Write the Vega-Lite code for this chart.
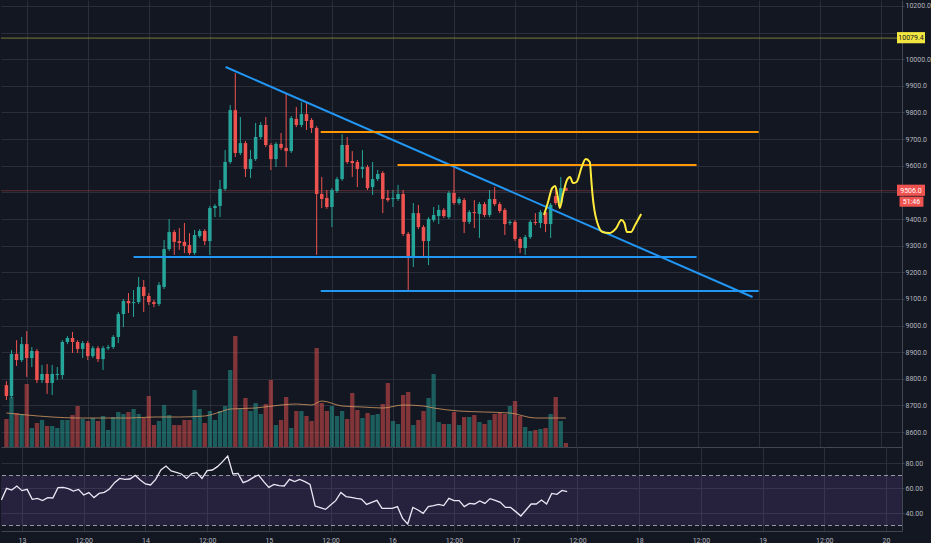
{
  "$schema": "https://vega.github.io/schema/vega-lite/v6.json",
  "description": "BTC hourly candles with volume, RSI and trend drawings, 13-17 May.",
  "background": "#131722",
  "padding": 0,
  "spacing": 0,
  "config": {
    "view": {"stroke": null},
    "axis": {"labelColor": "#b2b5be", "labelFont": "Roboto", "labelFontSize": 7, "gridColor": "#2a2e39", "domainColor": "#434651", "tickColor": "#434651", "tickSize": 2, "labelPadding": 1}
  },
  "datasets": {
    "candles": [
      {"t":-4,"o":8776,"h":8791,"l":8720,"c":8735,"v":280,"r":50.4},
      {"t":-3,"o":8735,"h":8908,"l":8728,"c":8893,"v":500,"r":59.7},
      {"t":-2,"o":8893,"h":8945,"l":8848,"c":8870,"v":340,"r":58.4},
      {"t":-1,"o":8870,"h":8957,"l":8863,"c":8930,"v":330,"r":61.6},
      {"t":0,"o":8930,"h":8979,"l":8807,"c":8878,"v":630,"r":57.9},
      {"t":1,"o":8878,"h":8919,"l":8844,"c":8904,"v":190,"r":58.9},
      {"t":2,"o":8904,"h":8912,"l":8784,"c":8795,"v":240,"r":50.9},
      {"t":3,"o":8795,"h":8852,"l":8784,"c":8818,"v":270,"r":51.7},
      {"t":4,"o":8818,"h":8855,"l":8743,"c":8784,"v":210,"r":49.9},
      {"t":5,"o":8784,"h":8852,"l":8739,"c":8818,"v":210,"r":52.3},
      {"t":6,"o":8814,"h":8844,"l":8795,"c":8818,"v":190,"r":52.0},
      {"t":7,"o":8814,"h":8945,"l":8799,"c":8938,"v":270,"r":60.3},
      {"t":8,"o":8938,"h":8960,"l":8930,"c":8953,"v":270,"r":60.5},
      {"t":9,"o":8953,"h":8976,"l":8897,"c":8938,"v":320,"r":59.5},
      {"t":10,"o":8938,"h":8945,"l":8897,"c":8912,"v":410,"r":57.6},
      {"t":11,"o":8912,"h":8942,"l":8878,"c":8934,"v":280,"r":58.9},
      {"t":12,"o":8934,"h":8942,"l":8870,"c":8885,"v":260,"r":54.4},
      {"t":13,"o":8885,"h":8923,"l":8878,"c":8915,"v":290,"r":56.3},
      {"t":14,"o":8915,"h":8923,"l":8863,"c":8874,"v":260,"r":52.3},
      {"t":15,"o":8874,"h":8923,"l":8833,"c":8915,"v":310,"r":55.7},
      {"t":16,"o":8915,"h":8927,"l":8908,"c":8919,"v":170,"r":56.5},
      {"t":17,"o":8919,"h":8964,"l":8912,"c":8957,"v":300,"r":59.2},
      {"t":18,"o":8957,"h":9051,"l":8934,"c":9043,"v":350,"r":64.3},
      {"t":19,"o":9043,"h":9100,"l":8994,"c":9092,"v":330,"r":67.7},
      {"t":20,"o":9092,"h":9122,"l":9047,"c":9084,"v":350,"r":66.9},
      {"t":21,"o":9084,"h":9133,"l":9032,"c":9088,"v":380,"r":67.2},
      {"t":22,"o":9088,"h":9182,"l":9081,"c":9145,"v":330,"r":70.1},
      {"t":23,"o":9145,"h":9171,"l":9051,"c":9111,"v":290,"r":66.4},
      {"t":24,"o":9111,"h":9122,"l":9077,"c":9088,"v":510,"r":63.2},
      {"t":25,"o":9088,"h":9096,"l":9069,"c":9081,"v":220,"r":62.4},
      {"t":26,"o":9081,"h":9163,"l":9073,"c":9152,"v":260,"r":66.9},
      {"t":27,"o":9145,"h":9321,"l":9137,"c":9287,"v":420,"r":74.4},
      {"t":28,"o":9287,"h":9400,"l":9280,"c":9351,"v":320,"r":77.6},
      {"t":29,"o":9351,"h":9359,"l":9265,"c":9314,"v":220,"r":73.6},
      {"t":30,"o":9317,"h":9366,"l":9284,"c":9310,"v":220,"r":72.5},
      {"t":31,"o":9314,"h":9385,"l":9272,"c":9299,"v":270,"r":71.2},
      {"t":32,"o":9302,"h":9347,"l":9265,"c":9272,"v":270,"r":67.7},
      {"t":33,"o":9272,"h":9359,"l":9265,"c":9340,"v":570,"r":71.5},
      {"t":34,"o":9336,"h":9362,"l":9329,"c":9355,"v":380,"r":72.3},
      {"t":35,"o":9355,"h":9362,"l":9302,"c":9317,"v":240,"r":67.7},
      {"t":36,"o":9317,"h":9449,"l":9265,"c":9441,"v":360,"r":73.9},
      {"t":37,"o":9441,"h":9456,"l":9407,"c":9449,"v":270,"r":74.4},
      {"t":38,"o":9449,"h":9546,"l":9407,"c":9513,"v":360,"r":77.1},
      {"t":39,"o":9513,"h":9659,"l":9505,"c":9614,"v":410,"r":81.1},
      {"t":40,"o":9614,"h":9828,"l":9607,"c":9809,"v":770,"r":85.6},
      {"t":41,"o":9809,"h":9948,"l":9633,"c":9648,"v":1110,"r":71.2},
      {"t":42,"o":9648,"h":9783,"l":9640,"c":9685,"v":380,"r":71.7},
      {"t":43,"o":9685,"h":9693,"l":9558,"c":9588,"v":490,"r":64.3},
      {"t":44,"o":9588,"h":9659,"l":9554,"c":9625,"v":360,"r":65.9},
      {"t":45,"o":9625,"h":9761,"l":9618,"c":9708,"v":440,"r":68.5},
      {"t":46,"o":9708,"h":9764,"l":9700,"c":9753,"v":330,"r":70.4},
      {"t":47,"o":9753,"h":9783,"l":9670,"c":9678,"v":430,"r":65.1},
      {"t":48,"o":9678,"h":9685,"l":9584,"c":9625,"v":670,"r":60.5},
      {"t":49,"o":9625,"h":9689,"l":9595,"c":9682,"v":220,"r":62.9},
      {"t":50,"o":9682,"h":9723,"l":9659,"c":9667,"v":270,"r":61.9},
      {"t":51,"o":9667,"h":9873,"l":9595,"c":9655,"v":500,"r":61.6},
      {"t":52,"o":9655,"h":9787,"l":9648,"c":9779,"v":190,"r":66.9},
      {"t":53,"o":9776,"h":9821,"l":9745,"c":9753,"v":360,"r":65.1},
      {"t":54,"o":9753,"h":9839,"l":9745,"c":9794,"v":360,"r":66.9},
      {"t":55,"o":9794,"h":9836,"l":9734,"c":9768,"v":310,"r":65.1},
      {"t":56,"o":9772,"h":9779,"l":9723,"c":9742,"v":260,"r":62.9},
      {"t":57,"o":9742,"h":9749,"l":9265,"c":9494,"v":990,"r":45.6},
      {"t":58,"o":9494,"h":9558,"l":9441,"c":9475,"v":440,"r":44.3},
      {"t":59,"o":9479,"h":9509,"l":9438,"c":9445,"v":360,"r":42.9},
      {"t":60,"o":9445,"h":9516,"l":9370,"c":9509,"v":410,"r":46.4},
      {"t":61,"o":9505,"h":9558,"l":9498,"c":9550,"v":310,"r":49.9},
      {"t":62,"o":9550,"h":9719,"l":9543,"c":9678,"v":360,"r":56.5},
      {"t":63,"o":9678,"h":9708,"l":9607,"c":9614,"v":280,"r":53.1},
      {"t":64,"o":9618,"h":9655,"l":9558,"c":9610,"v":540,"r":52.5},
      {"t":65,"o":9614,"h":9622,"l":9520,"c":9588,"v":370,"r":51.7},
      {"t":66,"o":9588,"h":9659,"l":9554,"c":9595,"v":290,"r":51.2},
      {"t":67,"o":9595,"h":9603,"l":9509,"c":9516,"v":340,"r":46.9},
      {"t":68,"o":9520,"h":9614,"l":9490,"c":9550,"v":320,"r":48.5},
      {"t":69,"o":9550,"h":9584,"l":9543,"c":9569,"v":330,"r":50.1},
      {"t":70,"o":9573,"h":9580,"l":9422,"c":9475,"v":430,"r":43.7},
      {"t":71,"o":9479,"h":9509,"l":9464,"c":9471,"v":640,"r":43.7},
      {"t":72,"o":9475,"h":9509,"l":9445,"c":9479,"v":260,"r":43.7},
      {"t":73,"o":9475,"h":9528,"l":9468,"c":9494,"v":230,"r":45.1},
      {"t":74,"o":9494,"h":9509,"l":9336,"c":9344,"v":520,"r":35.7},
      {"t":75,"o":9344,"h":9351,"l":9133,"c":9261,"v":550,"r":31.2},
      {"t":76,"o":9261,"h":9460,"l":9220,"c":9422,"v":220,"r":44.5},
      {"t":77,"o":9422,"h":9453,"l":9362,"c":9370,"v":270,"r":42.4},
      {"t":78,"o":9370,"h":9377,"l":9257,"c":9317,"v":360,"r":39.7},
      {"t":79,"o":9317,"h":9407,"l":9227,"c":9400,"v":490,"r":45.1},
      {"t":80,"o":9396,"h":9445,"l":9389,"c":9415,"v":730,"r":45.9},
      {"t":81,"o":9411,"h":9453,"l":9381,"c":9434,"v":250,"r":46.9},
      {"t":82,"o":9434,"h":9441,"l":9404,"c":9411,"v":230,"r":45.9},
      {"t":83,"o":9407,"h":9505,"l":9400,"c":9498,"v":230,"r":51.7},
      {"t":84,"o":9498,"h":9595,"l":9453,"c":9460,"v":350,"r":49.9},
      {"t":85,"o":9460,"h":9483,"l":9453,"c":9475,"v":220,"r":49.9},
      {"t":86,"o":9471,"h":9479,"l":9347,"c":9389,"v":300,"r":45.1},
      {"t":87,"o":9389,"h":9434,"l":9381,"c":9426,"v":300,"r":47.7},
      {"t":88,"o":9426,"h":9471,"l":9366,"c":9422,"v":320,"r":47.2},
      {"t":89,"o":9419,"h":9464,"l":9329,"c":9456,"v":250,"r":49.6},
      {"t":90,"o":9456,"h":9464,"l":9407,"c":9415,"v":230,"r":47.7},
      {"t":91,"o":9415,"h":9509,"l":9407,"c":9475,"v":270,"r":51.5},
      {"t":92,"o":9475,"h":9520,"l":9449,"c":9456,"v":330,"r":50.1},
      {"t":93,"o":9456,"h":9464,"l":9422,"c":9430,"v":340,"r":48.5},
      {"t":94,"o":9434,"h":9441,"l":9340,"c":9381,"v":330,"r":44.5},
      {"t":95,"o":9385,"h":9396,"l":9377,"c":9389,"v":410,"r":44.5},
      {"t":96,"o":9389,"h":9396,"l":9317,"c":9325,"v":460,"r":41.1},
      {"t":97,"o":9325,"h":9332,"l":9272,"c":9291,"v":310,"r":37.6},
      {"t":98,"o":9291,"h":9340,"l":9265,"c":9332,"v":200,"r":42.4},
      {"t":99,"o":9332,"h":9396,"l":9325,"c":9389,"v":160,"r":47.2},
      {"t":100,"o":9389,"h":9422,"l":9377,"c":9385,"v":170,"r":47.2},
      {"t":101,"o":9385,"h":9434,"l":9366,"c":9426,"v":180,"r":50.4},
      {"t":102,"o":9426,"h":9434,"l":9351,"c":9381,"v":190,"r":47.2},
      {"t":103,"o":9381,"h":9460,"l":9329,"c":9453,"v":330,"r":55.7},
      {"t":104,"o":9486,"h":9516,"l":9453,"c":9460,"v":500,"r":54.9},
      {"t":105,"o":9460,"h":9558,"l":9453,"c":9516,"v":260,"r":58.1},
      {"t":106,"o":9516,"h":9520,"l":9505,"c":9506,"v":40,"r":57.1}
    ],
    "vma": [
      {"t":-4,"m":340},{"t":0,"m":320},{"t":5,"m":300},{"t":10,"m":290},{"t":15,"m":290},
      {"t":20,"m":290},{"t":25,"m":300},{"t":30,"m":300},{"t":35,"m":310},{"t":38,"m":350},
      {"t":40,"m":380},{"t":45,"m":390},{"t":50,"m":420},{"t":53,"m":430},{"t":56,"m":420},
      {"t":58,"m":460},{"t":62,"m":410},{"t":66,"m":400},{"t":70,"m":390},{"t":74,"m":420},
      {"t":78,"m":410},{"t":80,"m":390},{"t":85,"m":360},{"t":90,"m":350},{"t":95,"m":340},
      {"t":100,"m":290},{"t":106,"m":290}
    ],
    "drawings": [
      {"id":"trend","kind":"blue","t":39.1,"p":9971},
      {"id":"trend","kind":"blue","t":142.7,"p":9107},
      {"id":"s1","kind":"blue","t":21.0,"p":9257},
      {"id":"s1","kind":"blue","t":131.7,"p":9257},
      {"id":"s2","kind":"blue","t":57.8,"p":9130},
      {"id":"s2","kind":"blue","t":143.9,"p":9130},
      {"id":"r1","kind":"orange","t":57.8,"p":9727},
      {"id":"r1","kind":"orange","t":143.9,"p":9727},
      {"id":"r2","kind":"orange","t":72.9,"p":9603},
      {"id":"r2","kind":"orange","t":131.7,"p":9603}
    ],
    "sketch": [
      {"t":101.7,"p":9415},{"t":102.5,"p":9464},{"t":103.3,"p":9516},{"t":103.9,"p":9524},
      {"t":104.4,"p":9483},{"t":104.8,"p":9441},{"t":105.4,"p":9490},{"t":106.2,"p":9546},
      {"t":106.8,"p":9558},{"t":107.4,"p":9535},{"t":108.1,"p":9539},{"t":109.1,"p":9595},
      {"t":109.9,"p":9625},{"t":110.7,"p":9614},{"t":111.0,"p":9546},{"t":111.2,"p":9498},
      {"t":111.6,"p":9434},{"t":112.2,"p":9385},{"t":113.2,"p":9351},{"t":114.5,"p":9347},
      {"t":115.9,"p":9366},{"t":116.9,"p":9396},{"t":117.5,"p":9385},{"t":118.0,"p":9351},
      {"t":118.8,"p":9351},{"t":119.6,"p":9377},{"t":120.8,"p":9419}
    ],
    "tags": [
      {"kind":"high","t1":171.1,"t2":176.6,"tm":173.85,"p1":10102,"p2":10060,"pm":10079.4,"label":"10079.4"},
      {"kind":"last","t1":171.1,"t2":176.6,"tm":173.85,"p1":9529,"p2":9487,"pm":9506,"label":"9506.0"},
      {"kind":"timer","t1":171.6,"t2":176.3,"tm":173.95,"p1":9484,"p2":9446,"pm":9465,"label":"51:46"}
    ]
  },
  "vconcat": [
    {
      "width": 901,
      "height": 447,
      "encoding": {
        "x": {
          "field": "t", "type": "quantitative", "scale": {"domain": [-4.08, 171.1], "nice": false, "zero": false},
          "axis": {"values": [0, 12, 24, 36, 48, 60, 72, 84, 96, 108, 120, 132, 144, 156, 168], "labels": false, "ticks": false, "domain": true, "grid": true, "title": null}
        }
      },
      "layer": [
        {
          "data": {"name": "candles"},
          "layer": [
            {
              "mark": {"type": "bar", "size": 4.3, "opacity": 0.5, "clip": true},
              "encoding": {
                "y": {"field": "v", "type": "quantitative", "scale": {"domain": [0, 4470]}, "axis": null},
                "color": {"condition": {"test": "datum.c >= datum.o", "value": "#26a69a"}, "value": "#ef5350"}
              }
            },
            {
              "data": {"name": "vma"},
              "mark": {"type": "line", "color": "#d39a62", "strokeWidth": 1, "opacity": 0.8, "interpolate": "monotone", "clip": true},
              "encoding": {
                "y": {"field": "m", "type": "quantitative", "scale": {"domain": [0, 4470]}, "axis": null}
              }
            }
          ]
        },
        {
          "encoding": {
            "y": {
              "type": "quantitative", "scale": {"domain": [8543.7, 10222.5], "nice": false, "zero": false},
              "axis": {"orient": "right", "values": [8600, 8700, 8800, 8900, 9000, 9100, 9200, 9300, 9400, 9500, 9600, 9700, 9800, 9900, 10000, 10100, 10200], "labelExpr": "datum.value == 9500 || datum.value == 10100 ? '' : format(datum.value, '.1f')", "grid": true, "domain": true, "labelOverlap": false, "title": null}
            }
          },
          "layer": [
            {
              "data": {"name": "candles"},
              "mark": {"type": "rule", "strokeWidth": 1, "clip": true},
              "encoding": {
                "y": {"field": "l"},
                "y2": {"field": "h"},
                "color": {"condition": {"test": "datum.c >= datum.o", "value": "#26a69a"}, "value": "#ef5350"}
              }
            },
            {
              "data": {"values": [{"p": 10079.4}]},
              "mark": {"type": "rule", "color": "#cfc64a", "strokeWidth": 1, "opacity": 0.55},
              "encoding": {"y": {"field": "p"}, "x": null}
            },
            {
              "data": {"values": [{"p": 9506}]},
              "mark": {"type": "rule", "color": "#ef5350", "strokeWidth": 1, "opacity": 0.35},
              "encoding": {"y": {"field": "p"}, "x": null}
            },
            {
              "data": {"name": "candles"},
              "mark": {"type": "bar", "size": 3.5, "clip": true},
              "encoding": {
                "y": {"field": "o"},
                "y2": {"field": "c"},
                "color": {"condition": {"test": "datum.c >= datum.o", "value": "#26a69a"}, "value": "#ef5350"}
              }
            },
            {
              "data": {"name": "drawings"},
              "mark": {"type": "line", "strokeWidth": 2},
              "encoding": {
                "y": {"field": "p"},
                "detail": {"field": "id"},
                "color": {"field": "kind", "type": "nominal", "scale": {"domain": ["blue", "orange"], "range": ["#2196f3", "#ff9800"]}, "legend": null}
              }
            },
            {
              "data": {"name": "sketch"},
              "mark": {"type": "line", "strokeWidth": 2, "color": "#ffeb3b", "interpolate": "monotone"},
              "encoding": {"y": {"field": "p"}}
            },
            {
              "data": {"name": "tags"},
              "mark": {"type": "rect"},
              "encoding": {
                "x": {"field": "t1", "type": "quantitative"},
                "x2": {"field": "t2"},
                "y": {"field": "p1"},
                "y2": {"field": "p2"},
                "color": {"condition": {"test": "datum.kind == 'high'", "value": "#f2e641"}, "value": "#ef5350"}
              }
            },
            {
              "data": {"name": "tags"},
              "mark": {"type": "text", "font": "Roboto", "fontSize": 7, "align": "center", "baseline": "middle"},
              "encoding": {
                "x": {"field": "tm", "type": "quantitative"},
                "y": {"field": "pm"},
                "text": {"field": "label"},
                "color": {"condition": {"test": "datum.kind == 'high'", "value": "#131722"}, "value": "#ffffff"}
              }
            }
          ]
        }
      ],
      "resolve": {"scale": {"y": "independent"}}
    },
    {
      "width": 901,
      "height": 84,
      "encoding": {
        "x": {
          "field": "t", "type": "quantitative", "scale": {"domain": [-4.08, 171.1], "nice": false, "zero": false},
          "axis": {"values": [0, 12, 24, 36, 48, 60, 72, 84, 96, 108, 120, 132, 144, 156, 168], "labelExpr": "datum.value % 24 == 0 ? toString(13 + datum.value / 24) : '12:00'", "ticks": false, "domain": true, "grid": true, "labelPadding": 5, "labelFlush": false, "title": null}
        },
        "y": {
          "type": "quantitative", "scale": {"domain": [25.6, 92.8], "nice": false, "zero": false},
          "axis": {"orient": "right", "values": [40, 60, 80], "format": ".2f", "grid": true, "domain": true, "title": null}
        }
      },
      "layer": [
        {
          "data": {"values": [{"lo": 30, "hi": 70, "t1": -4.08, "t2": 171.1}]},
          "mark": {"type": "rect", "color": "#7e57c2", "opacity": 0.18},
          "encoding": {
            "x": {"field": "t1", "type": "quantitative"},
            "x2": {"field": "t2"},
            "y": {"field": "hi"},
            "y2": {"field": "lo"}
          }
        },
        {
          "data": {"values": [{"lvl": 70}, {"lvl": 30}]},
          "mark": {"type": "rule", "color": "#9598a1", "strokeWidth": 1, "strokeDash": [4, 3]},
          "encoding": {"y": {"field": "lvl"}, "x": null}
        },
        {
          "data": {"name": "candles"},
          "mark": {"type": "line", "color": "#ece7f5", "strokeWidth": 1.3, "clip": true},
          "encoding": {"y": {"field": "r"}}
        }
      ]
    }
  ]
}
